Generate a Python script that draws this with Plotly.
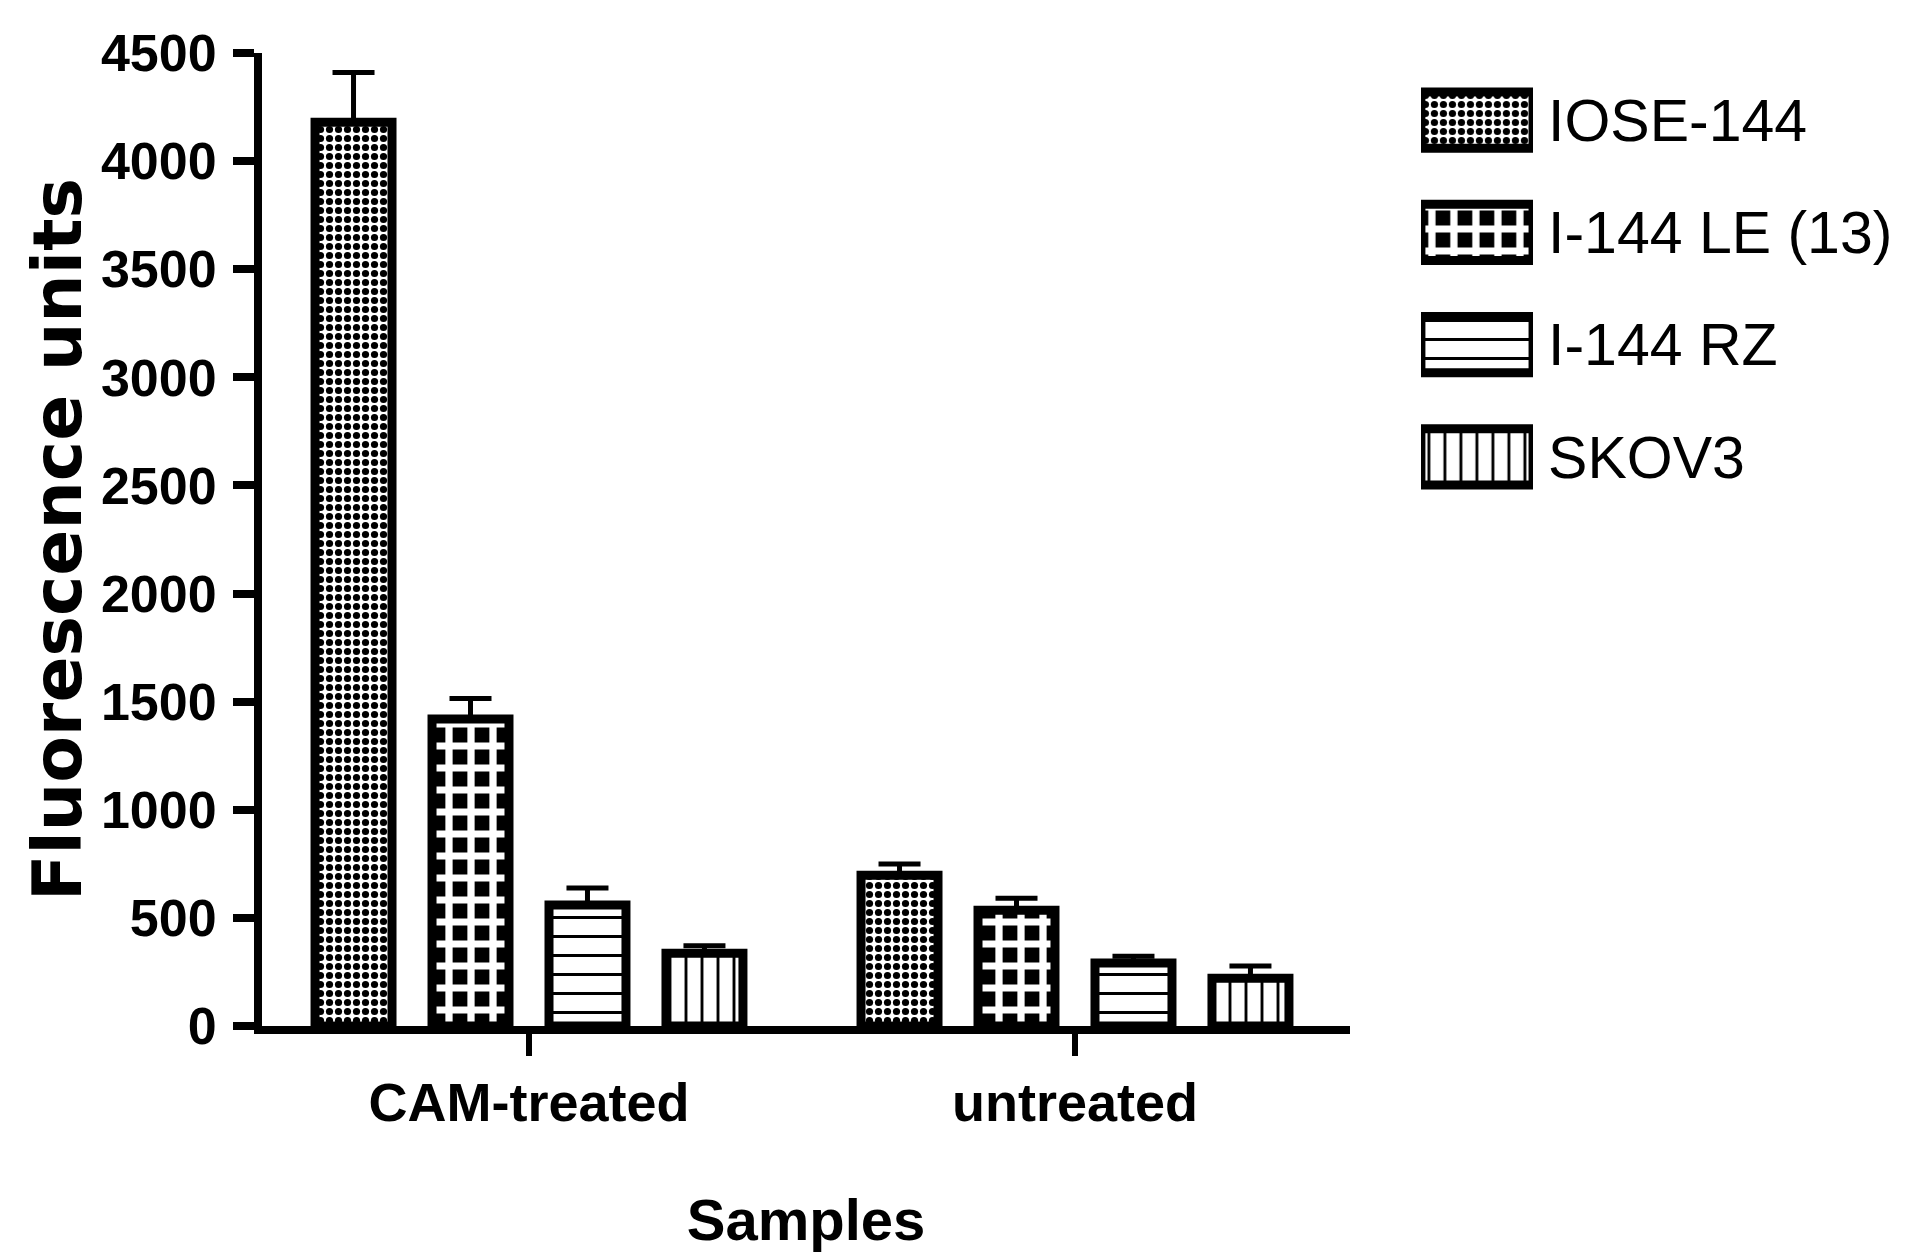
import plotly.graph_objects as go

# Sample groups on the category axis
groups = ["CAM-treated", "untreated"]

# Cell lines (one bar series each)
series = ["IOSE-144", "I-144 LE (13)", "I-144 RZ", "SKOV3"]

# Mean fluorescence per cell line, in group order
iose_144 = [4180, 697]
le_13 = [1420, 535]
rz = [560, 291]
skov3 = [337, 221]

# Upper error (SEM) per cell line, in group order
iose_144_err = [230, 52]
le_13_err = [95, 56]
rz_err = [78, 32]
skov3_err = [34, 56]

values = [iose_144, le_13, rz, skov3]
errors = [iose_144_err, le_13_err, rz_err, skov3_err]

# Y-axis ticks
y_ticks = [0, 500, 1000, 1500, 2000, 2500, 3000, 3500, 4000, 4500]

# Hatch styles: (shape, size, solidity, fg, bg)
patterns = [
    (".", 9, 0.5, "black", "white"),
    ("+", 22, 0.55, "white", "black"),
    ("-", 19, 0.16, "black", "white"),
    ("|", 16, 0.18, "black", "white"),
]

BORDER = 9
SANS = "Liberation Sans, Arial, Helvetica, sans-serif"

fig = go.Figure()

for name, vals, errs, (shape, size, sol, fg, bg) in zip(series, values, errors, patterns):
    fig.add_trace(go.Bar(
        x=groups,
        y=vals,
        name=name,
        showlegend=False,
        marker=dict(
            color="white",
            line=dict(color="black", width=BORDER),
            pattern=dict(shape=shape, size=size, solidity=sol,
                         fgcolor=fg, bgcolor=bg, fgopacity=1),
        ),
        error_y=dict(
            type="data", symmetric=False, array=errs,
            arrayminus=[0] * len(errs),
            color="black", thickness=5, width=21,
        ),
        xaxis="x", yaxis="y",
    ))

# Key swatches drawn as a small horizontal bar chart beside the plot
fig.add_trace(go.Bar(
    y=series,
    x=[1] * len(series),
    orientation="h",
    width=0.5,
    showlegend=False,
    cliponaxis=False,
    hoverinfo="skip",
    marker=dict(
        color="white",
        line=dict(color="black", width=BORDER),
        pattern=dict(
            shape=[p[0] for p in patterns],
            size=[p[1] for p in patterns],
            solidity=[p[2] for p in patterns],
            fgcolor=[p[3] for p in patterns],
            bgcolor=[p[4] for p in patterns],
            fgopacity=1,
        ),
    ),
    xaxis="x2", yaxis="y2",
))

fig.update_layout(
    width=1911,
    height=1253,
    margin=dict(l=262, r=0, t=53, b=227),
    paper_bgcolor="white",
    plot_bgcolor="white",
    barmode="group",
    bargap=0.143,
    bargroupgap=0.342,
    showlegend=False,
    xaxis=dict(
        domain=[0, 0.6598],
        type="category",
        range=[-0.489, 1.5037],
        automargin=False,
        showgrid=False, zeroline=False,
        showline=True, linecolor="black", linewidth=8,
        ticks="outside", ticklen=22, tickwidth=6, tickcolor="black",
        tickfont=dict(family=SANS, size=54, color="black", weight="bold"),
        ticklabelstandoff=0,
        title=dict(text="Samples", standoff=72,
                   font=dict(family=SANS, size=58, color="black", weight="bold")),
        anchor="y",
    ),
    yaxis=dict(
        domain=[0, 1],
        range=[0, 4500],
        tickvals=y_ticks,
        automargin=False,
        showgrid=False, zeroline=False,
        showline=True, linecolor="black", linewidth=8,
        ticks="outside", ticklen=21, tickwidth=8, tickcolor="black",
        tickfont=dict(family=SANS, size=52, color="black", weight="bold"),
        ticklabelstandoff=6,
        title=dict(text="Fluorescence units", standoff=0,
                   font=dict(family="DejaVu Sans", size=68, color="black", weight="bold")),
        anchor="x",
    ),
    xaxis2=dict(
        domain=[0.7028, 0.7708],
        range=[0, 1],
        visible=False,
        automargin=False,
        anchor="y2",
    ),
    yaxis2=dict(
        domain=[0.5272, 0.9887],
        type="category",
        range=[3.5, -0.5],
        side="right",
        automargin=False,
        showgrid=False, zeroline=False, showline=False,
        ticks="",
        tickfont=dict(family=SANS, size=59, color="black"),
        ticklabelstandoff=14,
        anchor="x2",
    ),
)

fig.write_html("out.html")
